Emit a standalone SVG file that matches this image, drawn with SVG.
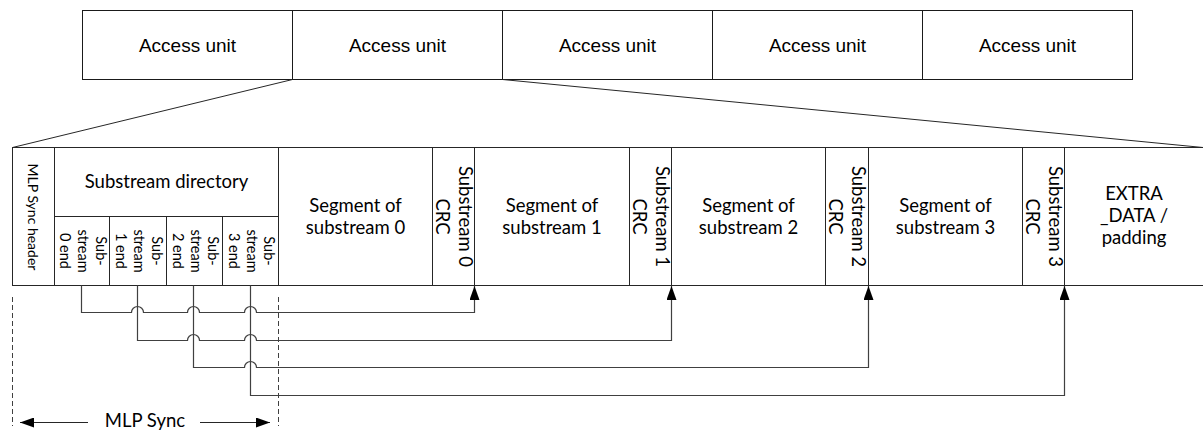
<svg xmlns="http://www.w3.org/2000/svg" width="1203" height="430" viewBox="0 0 1203 430">
<style>
.box{fill:#fff;stroke:#1a1a1a;stroke-width:1}
.cell{fill:#fff;stroke:#262626;stroke-width:1}
.au{font-family:"Liberation Sans",Arial,sans-serif;font-size:19px;fill:#000;text-anchor:middle}
.t{font-family:Lato,"Noto Sans",sans-serif;font-size:18.5px;fill:#000;text-anchor:middle}
.ts{font-family:Lato,"Noto Sans",sans-serif;font-size:14.5px;fill:#000;text-anchor:middle}
.th{font-family:Lato,"Noto Sans",sans-serif;font-size:14px;fill:#000;text-anchor:middle}
.ln{fill:none;stroke:#262626;stroke-width:1}
.cn{fill:none;stroke:#404040;stroke-width:1.2}
.dash{fill:none;stroke:#404040;stroke-width:1;stroke-dasharray:5,3}
</style>
<defs>
<marker id="arr" markerUnits="userSpaceOnUse" markerWidth="14" markerHeight="10" refX="14" refY="5" orient="auto">
<path d="M0,0 L14,5 L0,10 z" fill="#000"/>
</marker>
</defs>

<g id="access-unit-1"><rect class="box" x="82.5" y="10.5" width="210" height="69"/><text class="au" x="187.5" y="52">Access unit</text></g>
<g id="access-unit-2"><rect class="box" x="292.5" y="10.5" width="210" height="69"/><text class="au" x="397.5" y="52">Access unit</text></g>
<g id="access-unit-3"><rect class="box" x="502.5" y="10.5" width="210" height="69"/><text class="au" x="607.5" y="52">Access unit</text></g>
<g id="access-unit-4"><rect class="box" x="712.5" y="10.5" width="210" height="69"/><text class="au" x="817.5" y="52">Access unit</text></g>
<g id="access-unit-5"><rect class="box" x="922.5" y="10.5" width="210" height="69"/><text class="au" x="1027.5" y="52">Access unit</text></g>

<g id="mlp-sync-header"><rect class="cell" x="12.5" y="147.5" width="42" height="138"/>
<text class="th" transform="translate(33,217) rotate(90)" y="5">MLP Sync header</text></g>

<g id="substream-directory"><rect class="cell" x="54.5" y="147.5" width="224" height="69"/>
<text class="t" x="166.5" y="188">Substream directory</text></g>

<g id="substream-0-end"><rect class="cell" x="54.5" y="216.5" width="55" height="69"/>
<text class="ts" transform="translate(82,251) rotate(90)"><tspan x="0" y="-13.5">Sub-</tspan><tspan x="0" y="4">stream</tspan><tspan x="0" y="22">0 end</tspan></text></g>
<g id="substream-1-end"><rect class="cell" x="109.5" y="216.5" width="57" height="69"/>
<text class="ts" transform="translate(138,251) rotate(90)"><tspan x="0" y="-13.5">Sub-</tspan><tspan x="0" y="4">stream</tspan><tspan x="0" y="22">1 end</tspan></text></g>
<g id="substream-2-end"><rect class="cell" x="166.5" y="216.5" width="56" height="69"/>
<text class="ts" transform="translate(194.5,251) rotate(90)"><tspan x="0" y="-13.5">Sub-</tspan><tspan x="0" y="4">stream</tspan><tspan x="0" y="22">2 end</tspan></text></g>
<g id="substream-3-end"><rect class="cell" x="222.5" y="216.5" width="56" height="69"/>
<text class="ts" transform="translate(250.5,251) rotate(90)"><tspan x="0" y="-13.5">Sub-</tspan><tspan x="0" y="4">stream</tspan><tspan x="0" y="22">3 end</tspan></text></g>

<g id="segment-0"><rect class="cell" x="278.5" y="147.5" width="154" height="138"/>
<text class="t"><tspan x="355.5" y="212">Segment of</tspan><tspan x="355.5" y="234">substream 0</tspan></text></g>
<g id="crc-0"><rect class="cell" x="432.5" y="147.5" width="42" height="138"/>
<text class="t" transform="translate(453.5,216.5) rotate(90)"><tspan x="0" y="-5">Substream 0</tspan><tspan x="0" y="18">CRC</tspan></text></g>

<g id="segment-1"><rect class="cell" x="474.5" y="147.5" width="155" height="138"/>
<text class="t"><tspan x="552" y="212">Segment of</tspan><tspan x="552" y="234">substream 1</tspan></text></g>
<g id="crc-1"><rect class="cell" x="629.5" y="147.5" width="42" height="138"/>
<text class="t" transform="translate(650.5,216.5) rotate(90)"><tspan x="0" y="-5">Substream 1</tspan><tspan x="0" y="18">CRC</tspan></text></g>

<g id="segment-2"><rect class="cell" x="671.5" y="147.5" width="154" height="138"/>
<text class="t"><tspan x="748.5" y="212">Segment of</tspan><tspan x="748.5" y="234">substream 2</tspan></text></g>
<g id="crc-2"><rect class="cell" x="825.5" y="147.5" width="43" height="138"/>
<text class="t" transform="translate(847,216.5) rotate(90)"><tspan x="0" y="-5">Substream 2</tspan><tspan x="0" y="18">CRC</tspan></text></g>

<g id="segment-3"><rect class="cell" x="868.5" y="147.5" width="154" height="138"/>
<text class="t"><tspan x="945.5" y="212">Segment of</tspan><tspan x="945.5" y="234">substream 3</tspan></text></g>
<g id="crc-3"><rect class="cell" x="1022.5" y="147.5" width="42" height="138"/>
<text class="t" transform="translate(1043.5,216.5) rotate(90)"><tspan x="0" y="-5">Substream 3</tspan><tspan x="0" y="18">CRC</tspan></text></g>

<g id="extra-data"><path class="ln" d="M1064.5,147.5 H1203 M1064.5,285.5 H1203"/>
<text class="t"><tspan x="1134" y="200">EXTRA</tspan><tspan x="1134" y="222">_DATA /</tspan><tspan x="1134" y="244">padding</tspan></text></g>

<g id="connectors">
<path class="ln" d="M292.5,79.5 L12.5,147.5"/>
<path class="ln" d="M502.5,79.5 L1203,147.5"/>
<path class="cn" marker-end="url(#arr)" d="M81.5,285.5 V312.5 H131.5 a6,6 0 0 1 12,0 H187.5 a6,6 0 0 1 12,0 H244.5 a6,6 0 0 1 12,0 H474.5 V286"/>
<path class="cn" marker-end="url(#arr)" d="M137.5,285.5 V340.5 H187.5 a6,6 0 0 1 12,0 H244.5 a6,6 0 0 1 12,0 H671.5 V286"/>
<path class="cn" marker-end="url(#arr)" d="M193.5,285.5 V367.5 H244.5 a6,6 0 0 1 12,0 H868.5 V286"/>
<path class="cn" marker-end="url(#arr)" d="M250.5,285.5 V395.5 H1064.5 V286"/>
<path class="dash" d="M12.5,297 V426 M278.5,297 V426"/>
<path class="ln" marker-end="url(#arr)" d="M88,422.5 H20"/>
<path class="ln" marker-end="url(#arr)" d="M200,422.5 H270"/>
</g>
<g id="mlp-sync-label"><text class="t" x="145" y="427">MLP Sync</text></g>
</svg>
